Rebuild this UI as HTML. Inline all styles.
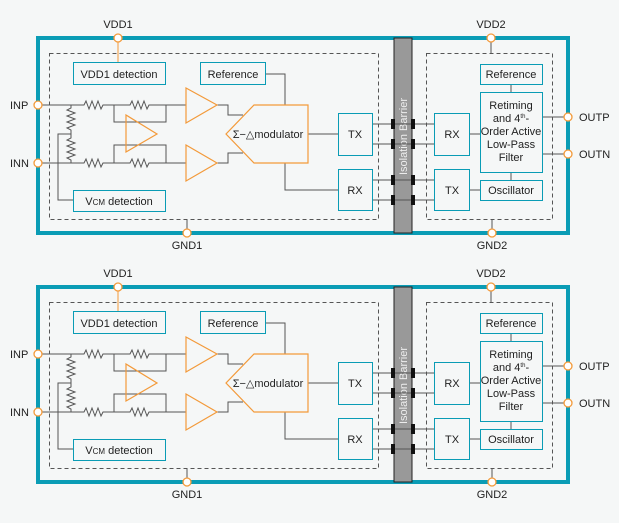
<!DOCTYPE html>
<html><head><style>
html,body{margin:0;padding:0;background:#fff;}
svg{display:block;}
text{font-family:"Liberation Sans",sans-serif;font-size:11px;fill:#222;}
</style></head><body>
<svg width="629" height="523" viewBox="0 0 629 523" xmlns="http://www.w3.org/2000/svg">
<rect x="0" y="0" width="619" height="523" fill="#f5f7f7"/>
<defs>
<g id="d">
  <!-- outer box -->
  <rect x="38" y="38" width="530" height="195" fill="none" stroke="#0a9cb5" stroke-width="4"/>
  <!-- dashed boxes -->
  <rect x="49.5" y="53.5" width="329" height="166" fill="none" stroke="#555" stroke-dasharray="4,3" stroke-width="1"/>
  <rect x="426.5" y="53.5" width="126" height="166" fill="none" stroke="#555" stroke-dasharray="4,3" stroke-width="1"/>
  <!-- barrier -->
  <rect x="394" y="38" width="18" height="195" fill="#999" stroke="#222" stroke-width="1"/>
  <text x="0" y="0" transform="translate(407,175) rotate(-90)" style="fill:#eee;font-size:11px">Isolation Barrier</text>
  <g fill="none" stroke="#555" stroke-width="1">
    <!-- VDD1 -->
    <line x1="118" y1="40" x2="118" y2="62" stroke="#f39a3a"/>
    <!-- GND1 -->
    <line x1="187" y1="219" x2="187" y2="231"/>
    <line x1="491" y1="40" x2="491" y2="53"/>
    <line x1="492" y1="219" x2="492" y2="231"/>
    <!-- inputs -->
    <polyline points="42,105 84,105 86,101 89,109 92,101 95,109 98,101 101,109 103,105 130,105 132,101 135,109 138,101 141,109 144,101 147,109 149,105 186,105"/>
    <polyline points="42,163 84,163 86,159 89,167 92,159 95,167 98,159 101,167 103,163 130,163 132,159 135,167 138,159 141,167 144,159 147,167 149,163 186,163"/>
    <!-- vertical resistor -->
    <polyline points="71,105 71,108 67,110 75,113 67,116 75,119 67,122 75,125 67,128 71,130 71,138 67,140 75,143 67,146 75,149 67,152 75,155 67,158 71,160 71,163"/>
    <polyline points="71,134 58,134 58,200 73,200"/>
    <polyline points="114,105 114,122 166,122 166,105"/>
    <polyline points="114,163 114,145 166,145 166,163"/>
    <polyline points="217,105 228,105 228,115 243,115"/>
    <polyline points="217,163 228,163 228,153 243,153"/>
    <polyline points="265,74 285,74 285,105"/>
    <polyline points="285,163 285,190 338,190"/>
    <line x1="308" y1="134" x2="338" y2="134"/>
    <line x1="372" y1="124" x2="434" y2="124"/>
    <line x1="372" y1="144" x2="434" y2="144"/>
    <line x1="372" y1="180" x2="434" y2="180"/>
    <line x1="372" y1="200" x2="434" y2="200"/>
    <line x1="469" y1="134" x2="480" y2="134"/>
    <line x1="469" y1="190" x2="480" y2="190"/>
    <line x1="511" y1="84" x2="511" y2="92"/>
    <line x1="511" y1="172" x2="511" y2="180"/>
    <line x1="542" y1="117" x2="564" y2="117"/>
    <line x1="542" y1="154" x2="564" y2="154"/>
  </g>
  <!-- barrier markers -->
  <g fill="#111">
    <rect x="391" y="119" width="4" height="10"/><rect x="411" y="119" width="4" height="10"/>
    <rect x="391" y="139" width="4" height="10"/><rect x="411" y="139" width="4" height="10"/>
    <rect x="391" y="175" width="4" height="10"/><rect x="411" y="175" width="4" height="10"/>
    <rect x="391" y="195" width="4" height="10"/><rect x="411" y="195" width="4" height="10"/>
  </g>
  <!-- amps -->
  <g fill="none" stroke="#f39a3a" stroke-width="1.2">
    <polygon points="186,88 217,105 186,123"/>
    <polygon points="186,145 217,163 186,181"/>
    <polygon points="126,115 157,134 126,152"/>
    <polygon points="226,134 254,105 308,105 308,163 254,163"/>
  </g>
  <!-- boxes -->
  <g fill="none" stroke="#0a9cb5" stroke-width="1">
    <rect x="73.5" y="62.5" width="92" height="22"/>
    <rect x="200.5" y="62.5" width="65" height="22"/>
    <rect x="73.5" y="190.5" width="92" height="21"/>
    <rect x="338.5" y="113.5" width="34" height="42"/>
    <rect x="338.5" y="169.5" width="34" height="41"/>
    <rect x="434.5" y="113.5" width="35" height="42"/>
    <rect x="434.5" y="169.5" width="35" height="41"/>
    <rect x="480.5" y="64.5" width="62" height="20"/>
    <rect x="480.5" y="92.5" width="62" height="80"/>
    <rect x="480.5" y="180.5" width="62" height="20"/>
  </g>
  <!-- pins -->
  <g fill="#fff" stroke="#f39a3a" stroke-width="1.3">
    <circle cx="118" cy="38" r="4"/><circle cx="187" cy="233" r="4"/>
    <circle cx="491" cy="38" r="4"/><circle cx="492" cy="233" r="4"/>
    <circle cx="38" cy="105" r="4"/><circle cx="38" cy="163" r="4"/>
    <circle cx="568" cy="117" r="4"/><circle cx="568" cy="154" r="4"/>
  </g>
  <!-- labels -->
  <text x="118" y="28" text-anchor="middle">VDD1</text>
  <text x="187" y="249" text-anchor="middle">GND1</text>
  <text x="491" y="28" text-anchor="middle">VDD2</text>
  <text x="492" y="249" text-anchor="middle">GND2</text>
  <text x="10" y="109">INP</text>
  <text x="10" y="167">INN</text>
  <text x="579" y="121">OUTP</text>
  <text x="579" y="158">OUTN</text>
  <text x="119" y="78" text-anchor="middle">VDD1 detection</text>
  <text x="233" y="78" text-anchor="middle">Reference</text>
  <text x="119" y="205" text-anchor="middle">V<tspan font-size="8">CM</tspan> detection</text>
  <text x="268" y="138" text-anchor="middle">Σ−△modulator</text>
  <text x="355" y="138" text-anchor="middle">TX</text>
  <text x="355" y="194" text-anchor="middle">RX</text>
  <text x="452" y="138" text-anchor="middle">RX</text>
  <text x="452" y="194" text-anchor="middle">TX</text>
  <text x="511" y="78" text-anchor="middle">Reference</text>
  <text x="511" y="194" text-anchor="middle">Oscillator</text>
  <text x="511" y="109" text-anchor="middle">Retiming</text>
  <text x="511" y="122" text-anchor="middle">and 4<tspan font-size="6" dy="-4">th</tspan><tspan dy="4">-</tspan></text>
  <text x="511" y="135" text-anchor="middle">Order Active</text>
  <text x="511" y="148" text-anchor="middle">Low-Pass</text>
  <text x="511" y="161" text-anchor="middle">Filter</text>
</g>
</defs>
<use href="#d"/>
<use href="#d" transform="translate(0,249)"/>
</svg>
</body></html>
